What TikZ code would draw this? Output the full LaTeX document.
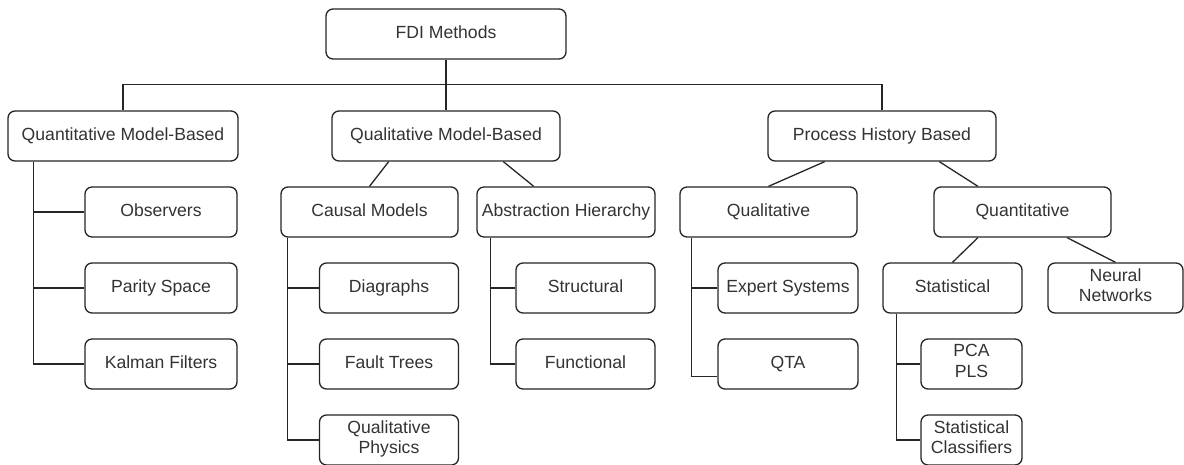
\documentclass[tikz,border=0pt]{standalone}
\usepackage{fontspec}
\setmainfont{Liberation Sans}
\usetikzlibrary{calc}
\definecolor{txtgray}{HTML}{333333}
\tikzset{
	box/.style={draw=black!85, line width=1.3pt, rounded corners=7pt, fill=white,
		inner sep=2pt, align=center, text=txtgray,
		font=\fontsize{17.6}{20.5}\selectfont, minimum height=50pt,
		execute at begin node=\strut, execute at end node=\strut},
	link/.style={draw=black!85, line width=1.3pt}
}

\begin{document}
\begin{tikzpicture}[x=1pt, y=-1pt]
		%%%%% START %%%%%
		\useasboundingbox (0, 0) rectangle (1184, 465);
		
		\node[box, minimum width=240pt] (fdi) at (446, 34) {FDI Methods};
		
		\node[box, minimum width=230pt] (qnt) at (123, 136) {Quantitative Model-Based};
		\node[box, minimum width=228pt] (qlm) at (446, 136) {Qualitative Model-Based};
		\node[box, minimum width=228pt] (phb) at (882, 136) {Process History Based};
		
		\node[box, minimum width=152pt] (obs) at (161, 212) {Observers};
		\node[box, minimum width=152pt] (par) at (161, 288) {Parity Space};
		\node[box, minimum width=152pt] (kal) at (161, 364) {Kalman Filters};
		
		\node[box, minimum width=177pt] (cau) at (369.5, 212) {Causal Models};
		\node[box, minimum width=139pt] (dia) at (389, 288) {Diagraphs};
		\node[box, minimum width=139pt] (flt) at (389, 364) {Fault Trees};
		\node[box, minimum width=139pt] (qph) at (389, 440) {Qualitative\\Physics};
		
		\node[box, minimum width=178pt] (abs) at (566, 212) {Abstraction Hierarchy};
		\node[box, minimum width=139pt] (str) at (585.5, 288) {Structural};
		\node[box, minimum width=139pt] (fun) at (585.5, 364) {Functional};
		
		\node[box, minimum width=177pt] (qlt) at (768.5, 212) {Qualitative};
		\node[box, minimum width=140pt] (exs) at (788, 288) {Expert Systems};
		\node[box, minimum width=140pt] (qta) at (788, 364) {QTA};
		
		\node[box, minimum width=177pt] (qtv) at (1022.5, 212) {Quantitative};
		\node[box, minimum width=139pt] (sta) at (952.5, 288) {Statistical};
		\node[box, minimum width=135pt] (nnw) at (1115.5, 288) {Neural\\Networks};
		\node[box, minimum width=101pt] (pca) at (971.5, 364) {PCA\\PLS};
		\node[box, minimum width=101pt] (scl) at (971.5, 440) {Statistical\\Classifiers};
		
		% top level
		\draw[link] (fdi.south) -- (qlm.north);
		\draw[link] (qnt.north) -- ++(0, -26) -| (phb.north);
		
		% slanted links
		\draw[link] ($(qlm.south west)!0.25!(qlm.south east)$) -- (cau.north);
		\draw[link] ($(qlm.south west)!0.75!(qlm.south east)$) -- ($(abs.north west)!0.32!(abs.north east)$);
		\draw[link] ($(phb.south west)!0.25!(phb.south east)$) -- (qlt.north);
		\draw[link] ($(phb.south west)!0.75!(phb.south east)$) -- ($(qtv.north west)!0.25!(qtv.north east)$);
		\draw[link] ($(qtv.south west)!0.25!(qtv.south east)$) -- (sta.north);
		\draw[link] ($(qtv.south west)!0.75!(qtv.south east)$) -- (nnw.north);
		
		% tree links
		\draw[link] ($(qnt.south west)+(26, 0)$) |- (obs.west);
		\draw[link] ($(qnt.south west)+(26, 0)$) |- (par.west);
		\draw[link] ($(qnt.south west)+(26, 0)$) |- (kal.west);
		
		\draw[link] ($(cau.south west)+(7, 0)$) |- (dia.west);
		\draw[link] ($(cau.south west)+(7, 0)$) |- (flt.west);
		\draw[link] ($(cau.south west)+(7, 0)$) |- (qph.west);
		
		\draw[link] ($(abs.south west)+(14, 0)$) |- (str.west);
		\draw[link] ($(abs.south west)+(14, 0)$) |- (fun.west);
		
		\draw[link] ($(qlt.south west)+(12, 0)$) |- (exs.west);
		\draw[link] ($(qlt.south west)+(12, 0)$) |- ($(qta.south west)!0.25!(qta.north west)$);
		
		\draw[link] ($(sta.south west)+(14, 0)$) |- (pca.west);
		\draw[link] ($(sta.south west)+(14, 0)$) |- (scl.west);
		
		%%%%% END %%%%%
	\end{tikzpicture}
\end{document}
